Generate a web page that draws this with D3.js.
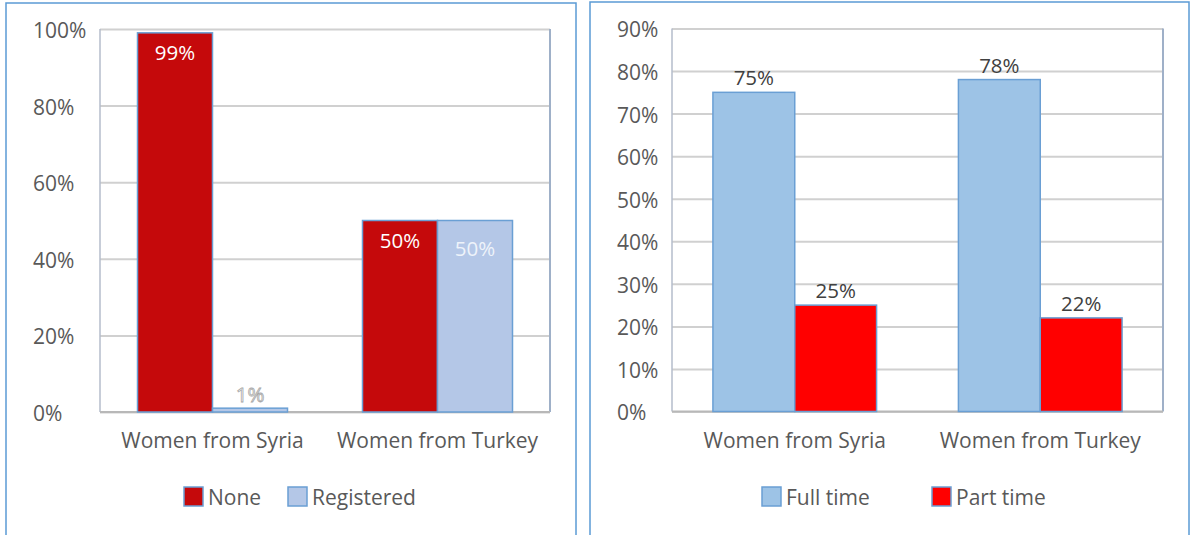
<!DOCTYPE html>
<html>
<head>
<meta charset="utf-8">
<script src="https://cdn.jsdelivr.net/npm/d3@7"></script>
<style>
  body { margin: 0; background: #fff; }
  text { font-family: "Open Sans", "Noto Sans", sans-serif; }
</style>
</head>
<body>
<script>
// data
const categories = ['Women from Syria', 'Women from Turkey'];

const regSeries = ['None', 'Registered'];
const regNone = [0.99, 0.50];
const regRegistered = [0.01, 0.50];
const regTicks = [0, 0.2, 0.4, 0.6, 0.8, 1.0];

const workSeries = ['Full time', 'Part time'];
const workFull = [0.75, 0.78];
const workPart = [0.25, 0.22];
const workTicks = [0, 0.1, 0.2, 0.3, 0.4, 0.5, 0.6, 0.7, 0.8, 0.9];

const svg = d3.select('body').append('svg')
  .attr('width', 1190)
  .attr('height', 535);

const pct = d3.format('.0%');

function drawPanel(cfg) {
  const g = svg.append('g');

  // panel frame
  g.append('rect')
    .attr('x', cfg.frame[0]).attr('y', cfg.frame[1])
    .attr('width', cfg.frame[2]).attr('height', cfg.frame[3])
    .attr('fill', 'none')
    .attr('stroke', '#5b9bd5')
    .attr('stroke-width', 1.5);

  const x0 = d3.scaleBand()
    .domain(categories)
    .range([cfg.left, cfg.right])
    .paddingInner(1 / 3)
    .paddingOuter(1 / 6);
  const x1 = d3.scaleBand()
    .domain(cfg.series)
    .range([0, x0.bandwidth()]);
  const y = d3.scaleLinear()
    .domain([0, cfg.max])
    .range([cfg.bottom, cfg.top]);

  // gridlines
  g.append('g')
    .attr('transform', `translate(${cfg.left},0)`)
    .call(d3.axisRight(y).tickValues(cfg.ticks).tickSize(cfg.right - cfg.left).tickFormat(''))
    .call(a => a.select('.domain').remove())
    .call(a => a.selectAll('line').attr('stroke', '#d0d0d0').attr('stroke-width', 2));

  // plot area sides
  g.append('line')
    .attr('x1', cfg.left).attr('x2', cfg.left)
    .attr('y1', cfg.top).attr('y2', cfg.bottom)
    .attr('stroke', '#b4bccb').attr('stroke-width', 1.5);
  g.append('line')
    .attr('x1', cfg.right).attr('x2', cfg.right)
    .attr('y1', cfg.top).attr('y2', cfg.bottom)
    .attr('stroke', '#9fb0c8').attr('stroke-width', 2);
  g.append('line')
    .attr('x1', cfg.left).attr('x2', cfg.right)
    .attr('y1', cfg.bottom).attr('y2', cfg.bottom)
    .attr('stroke', '#b8b8b8').attr('stroke-width', 2);

  // y labels (left aligned, Excel style)
  g.append('g')
    .attr('transform', `translate(${cfg.labelX},0)`)
    .call(d3.axisLeft(y).tickValues(cfg.ticks).tickSize(0).tickPadding(0).tickFormat(pct))
    .call(a => a.select('.domain').remove())
    .call(a => a.selectAll('text')
      .attr('text-anchor', 'start')
      .attr('x', 0)
      .attr('dy', '0.4em')
      .attr('fill', '#595959')
      .style('font-size', '21px')
      .style('font-family', '"Open Sans", "Noto Sans", sans-serif'));

  // category labels
  g.append('g')
    .attr('transform', `translate(0,${cfg.bottom})`)
    .call(d3.axisBottom(x0).tickSize(0).tickPadding(0))
    .call(a => a.select('.domain').remove())
    .call(a => a.selectAll('text')
      .attr('y', 0)
      .attr('dy', 36)
      .attr('fill', '#595959')
      .style('font-size', '21px')
      .style('font-family', '"Open Sans", "Noto Sans", sans-serif'));

  // bars
  const rows = categories.map((c, i) => ({
    cat: c,
    vals: cfg.series.map((s, j) => ({ s, j, v: cfg.values[j][i] }))
  }));

  const grp = g.selectAll('.cat')
    .data(rows)
    .join('g')
    .attr('transform', d => `translate(${x0(d.cat)},0)`);

  grp.selectAll('rect')
    .data(d => d.vals)
    .join('rect')
    .attr('x', d => x1(d.s))
    .attr('y', d => y(d.v))
    .attr('width', x1.bandwidth())
    .attr('height', d => y(0) - y(d.v))
    .attr('fill', d => cfg.colors[d.j])
    .attr('stroke', '#6a9fd4')
    .attr('stroke-width', 1.5);

  grp.selectAll('text.val')
    .data(d => d.vals)
    .join('text')
    .attr('class', 'val')
    .attr('x', d => x1(d.s) + x1.bandwidth() / 2)
    .attr('y', d => cfg.labelY(d, y))
    .attr('text-anchor', 'middle')
    .attr('fill', d => cfg.labelFill(d))
    .attr('stroke', d => cfg.labelStroke(d))
    .attr('stroke-width', 0.8)
    .style('font-size', '20.5px')
    .text(d => pct(d.v));

  // legend
  const leg = g.selectAll('.leg')
    .data(cfg.series)
    .join('g')
    .attr('transform', (d, i) => `translate(${cfg.legendX[i]},${cfg.legendY})`);
  leg.append('rect')
    .attr('x', 0).attr('y', -10)
    .attr('width', 19).attr('height', 19)
    .attr('fill', (d, i) => cfg.colors[i])
    .attr('stroke', '#6a9fd4')
    .attr('stroke-width', 1.5);
  leg.append('text')
    .attr('x', 24)
    .attr('dy', '0.36em')
    .attr('fill', '#595959')
    .style('font-size', '21px')
    .text(d => d);
}

drawPanel({
  frame: [6, 3, 570, 545],
  left: 100, right: 550, top: 29, bottom: 412,
  max: 1, ticks: regTicks, labelX: 33,
  series: regSeries,
  values: [regNone, regRegistered],
  colors: ['#c5090b', '#b4c7e7'],
  labelY: (d, y) => d.v < 0.05 ? y(d.v) - 6 : y(d.v) + (d.j === 0 ? 27 : 35),
  labelFill: d => d.v < 0.05 ? '#ffffff' : (d.j === 0 ? '#ffffff' : '#eef3fa'),
  labelStroke: d => d.v < 0.05 ? '#a6a6a6' : 'none',
  legendX: [184, 288], legendY: 497
});

drawPanel({
  frame: [590, 2, 599, 545],
  left: 672, right: 1163, top: 28.5, bottom: 411.5,
  max: 0.9, ticks: workTicks, labelX: 617,
  series: workSeries,
  values: [workFull, workPart],
  colors: ['#9dc3e6', '#ff0000'],
  labelY: (d, y) => y(d.v) - 7,
  labelFill: () => '#404040',
  labelStroke: () => 'none',
  legendX: [762, 932], legendY: 497
});
</script>
</body>
</html>
